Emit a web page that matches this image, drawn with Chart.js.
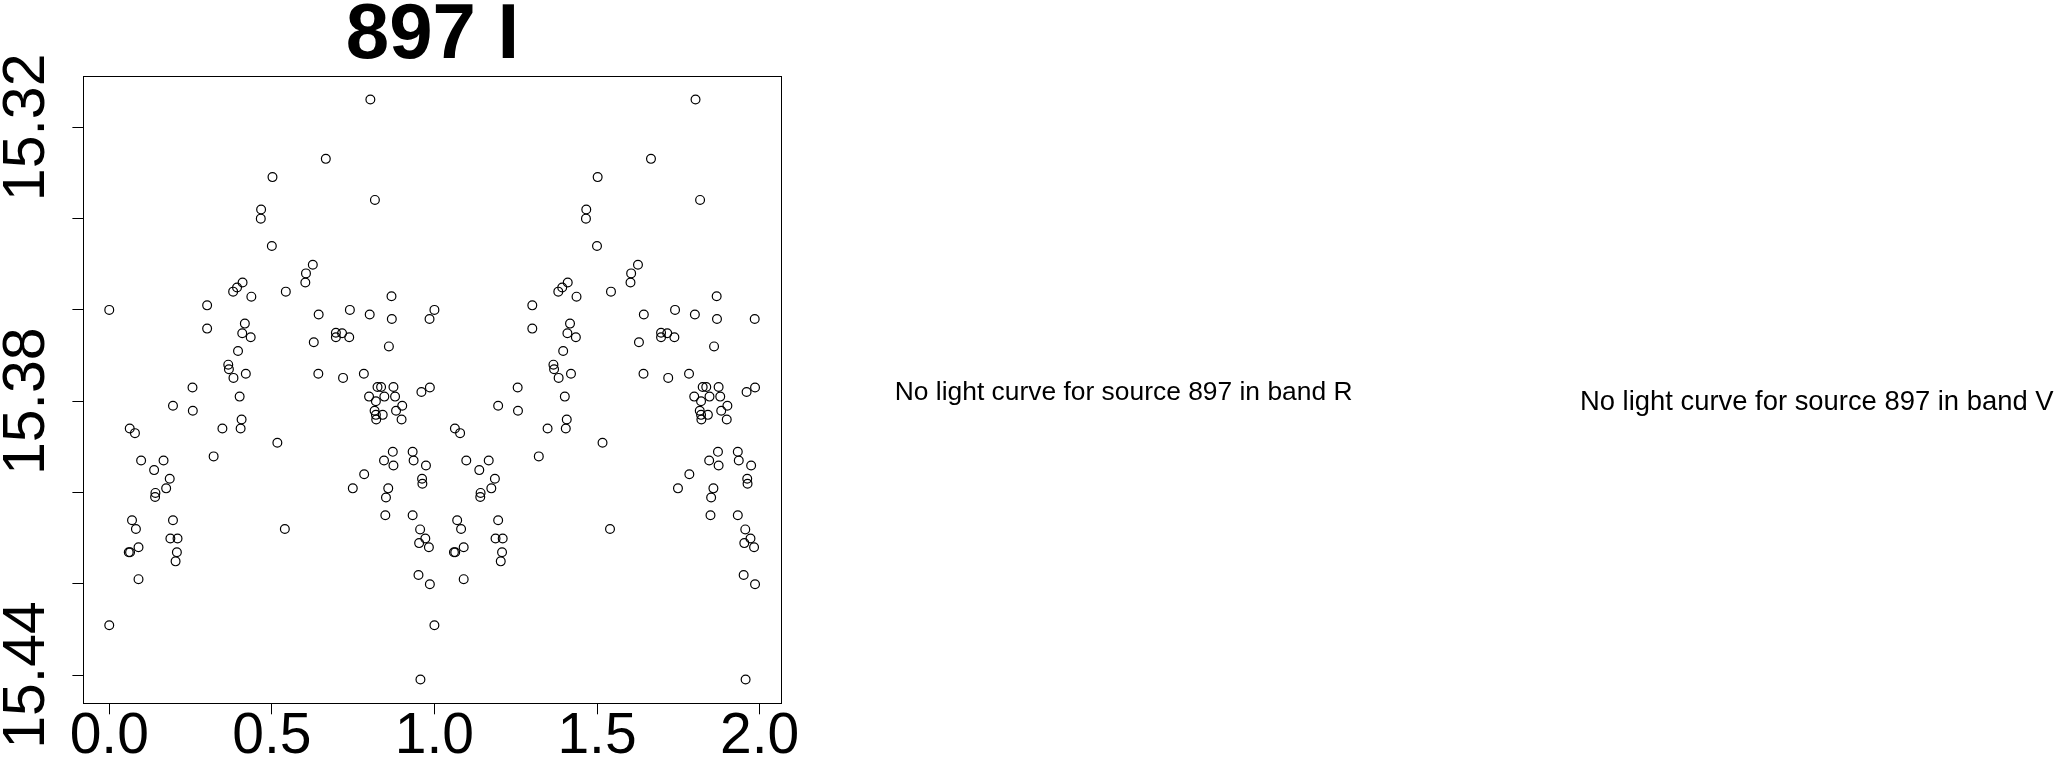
<!DOCTYPE html>
<html>
<head>
<meta charset="utf-8">
<title>897 I</title>
<script src="https://cdn.jsdelivr.net/npm/chart.js@4/dist/chart.umd.min.js"></script>
<style>
  html, body { margin: 0; padding: 0; background: #fff; }
  #wrap { position: relative; width: 2057px; height: 761px; overflow: hidden; }
  #lc { position: absolute; left: 0; top: 0; }
  .nolc { position: absolute; font-family: "Liberation Sans", Arial, sans-serif; color: #000; white-space: nowrap; }
</style>
</head>
<body>
<div id="wrap">
  <canvas id="lc" width="2057" height="761"></canvas>
  <div class="nolc" id="msgR" style="left:894.8px; top:377.6px; font-size:26.4px; line-height:26.4px;"></div>
  <div class="nolc" id="msgV" style="left:1580px; top:387px; font-size:27.4px; line-height:27.4px;"></div>
</div>
<script>
var source = "897";
var band = "I";
var missingBands = ["R", "V"];

// folded light curve, phase 0..1 then the same observations plotted again at 1..2
var phaseCycle1 = [
  0.000, 0.000, 0.063, 0.079, 0.098, 0.070, 0.082, 0.060, 0.064, 0.090,
  0.090, 0.138, 0.167, 0.142, 0.141, 0.175, 0.186, 0.196, 0.196, 0.188,
  0.210, 0.208, 0.204, 0.256, 0.257, 0.301, 0.301, 0.321, 0.348, 0.366,
  0.368, 0.382, 0.381, 0.393, 0.410, 0.437, 0.417, 0.409, 0.435, 0.396,
  0.420, 0.401, 0.407, 0.404, 0.467, 0.466, 0.502, 0.500, 0.543, 0.517,
  0.540, 0.605, 0.603, 0.626, 0.644, 0.629, 0.643, 0.666, 0.697, 0.697,
  0.716, 0.738, 0.740, 0.719, 0.749, 0.784, 0.783, 0.801, 0.803, 0.817,
  0.799, 0.825, 0.836, 0.820, 0.816, 0.820, 0.821, 0.846, 0.841, 0.845,
  0.858, 0.851, 0.849, 0.860, 0.868, 0.869, 0.874, 0.879, 0.882, 0.901,
  0.899, 0.872, 0.874, 0.933, 0.936, 0.933, 0.960, 0.956, 0.953, 0.972,
  0.983, 0.951, 0.957, 0.986, 0.974, 0.962, 0.963, 0.985, 0.986
];
var phaseCycle2 = [
  1.000, 1.000, 1.063, 1.079, 1.098, 1.070, 1.082, 1.060, 1.064, 1.090,
  1.090, 1.138, 1.167, 1.142, 1.141, 1.175, 1.186, 1.196, 1.196, 1.188,
  1.210, 1.208, 1.204, 1.256, 1.257, 1.301, 1.301, 1.321, 1.348, 1.366,
  1.368, 1.382, 1.381, 1.393, 1.410, 1.437, 1.417, 1.409, 1.435, 1.396,
  1.420, 1.401, 1.407, 1.404, 1.467, 1.466, 1.502, 1.500, 1.543, 1.517,
  1.540, 1.605, 1.603, 1.626, 1.644, 1.629, 1.643, 1.666, 1.697, 1.697,
  1.716, 1.738, 1.740, 1.719, 1.749, 1.784, 1.783, 1.801, 1.803, 1.817,
  1.799, 1.825, 1.836, 1.820, 1.816, 1.820, 1.821, 1.846, 1.841, 1.845,
  1.858, 1.851, 1.849, 1.860, 1.868, 1.869, 1.874, 1.879, 1.882, 1.901,
  1.899, 1.872, 1.874, 1.933, 1.936, 1.933, 1.960, 1.956, 1.953, 1.972,
  1.983, 1.951, 1.957, 1.986, 1.974, 1.962, 1.963, 1.985, 1.986
];
var magnitude = [
  15.3600, 15.4291, 15.3860, 15.3870, 15.3930, 15.4061, 15.4080, 15.4131, 15.4131, 15.4120,
  15.4190, 15.3951, 15.3930, 15.4001, 15.4010, 15.3991, 15.3970, 15.3810, 15.4061, 15.4101,
  15.4101, 15.4131, 15.4151, 15.3770, 15.3821, 15.3590, 15.3641, 15.3921, 15.3860, 15.3720,
  15.3730, 15.3749, 15.3560, 15.3551, 15.3540, 15.3571, 15.3630, 15.3651, 15.3660, 15.3690,
  15.3740, 15.3790, 15.3840, 15.3860, 15.3380, 15.3400, 15.3309, 15.3460, 15.3560, 15.3891,
  15.4080, 15.3520, 15.3540, 15.3501, 15.3610, 15.3671, 15.3740, 15.3269, 15.3650, 15.3660,
  15.3651, 15.3660, 15.3600, 15.3749, 15.3991, 15.3960, 15.3740, 15.3610, 15.3139, 15.3359,
  15.3790, 15.3769, 15.3769, 15.3800, 15.3821, 15.3830, 15.3840, 15.3790, 15.3830, 15.3930,
  15.3991, 15.4011, 15.4050, 15.3680, 15.3570, 15.3620, 15.3769, 15.3790, 15.3821, 15.3810,
  15.3840, 15.3911, 15.3941, 15.3911, 15.3930, 15.4050, 15.3780, 15.4081, 15.4111, 15.4101,
  15.4120, 15.4181, 15.4410, 15.4201, 15.3941, 15.3970, 15.3981, 15.3620, 15.3770
];

var xTickValues = [0, 0.5, 1, 1.5, 2];
var xTickLabels = ["0.0", "0.5", "1.0", "1.5", "2.0"];
var yTickValues = [15.32, 15.34, 15.36, 15.38, 15.40, 15.42, 15.44];
var yTickLabels = ["15.32", "", "", "15.38", "", "", "15.44"];

var FONT = "'Liberation Sans', Arial, Helvetica, sans-serif";

document.getElementById("msgR").textContent = "No light curve for source " + source + " in band " + missingBands[0];
document.getElementById("msgV").textContent = "No light curve for source " + source + " in band " + missingBands[1];

var points = phaseCycle1.map(function (p, i) { return { x: p, y: magnitude[i] }; })
  .concat(phaseCycle2.map(function (p, i) { return { x: p, y: magnitude[i] }; }));

// R style frame + vertical y labels
var rFrame = {
  id: "rFrame",
  afterDraw: function (chart) {
    var ctx = chart.ctx;
    var a = chart.chartArea;
    var ys = chart.scales.y;
    ctx.save();
    ctx.strokeStyle = "#000";
    ctx.lineWidth = 1;
    ctx.strokeRect(Math.round(a.left) + 0.5, Math.round(a.top) + 0.5,
      Math.round(a.right - a.left), Math.round(a.bottom - a.top));
    ctx.fillStyle = "#000";
    ctx.font = "59px " + FONT;
    ctx.textAlign = "center";
    ctx.textBaseline = "alphabetic";
    for (var i = 0; i < yTickValues.length; i++) {
      if (!yTickLabels[i]) continue;
      ctx.save();
      ctx.translate(43.5, ys.getPixelForValue(yTickValues[i]));
      ctx.rotate(-Math.PI / 2);
      ctx.fillText(yTickLabels[i], 0, 0);
      ctx.restore();
    }
    ctx.restore();
  }
};

var make_chart = function make_chart(id) {
  var ctx = document.getElementById(id);
  return new Chart(ctx, {
    type: "scatter",
    data: {
      datasets: [{
        label: source + " " + band,
        data: points,
        pointStyle: "circle",
        pointRadius: 4.4,
        pointHoverRadius: 4.4,
        borderWidth: 1.2,
        borderColor: "#000",
        backgroundColor: "rgba(0,0,0,0)"
      }]
    },
    options: {
      responsive: false,
      animation: false,
      devicePixelRatio: 1,
      layout: { padding: { left: 0, top: 0, right: 1275.4, bottom: 0 } },
      plugins: {
        legend: { display: false },
        tooltip: { enabled: false },
        title: {
          display: true,
          text: source + " " + band,
          fullSize: false,
          color: "#000",
          font: { family: FONT, size: 78, weight: "bold", lineHeight: 0.78 },
          padding: { top: 6.5, bottom: 8.9 }
        }
      },
      scales: {
        x: {
          type: "linear",
          min: -0.0795,
          max: 2.0677,
          afterBuildTicks: function (scale) {
            scale.ticks = xTickValues.map(function (v) { return { value: v }; });
          },
          afterFit: function (scale) { scale.height = 57.7; },
          grid: { drawOnChartArea: false, drawTicks: true, tickLength: 11, color: "#000", lineWidth: 1 },
          border: { display: false },
          ticks: {
            autoSkip: false,
            maxRotation: 0,
            minRotation: 0,
            padding: 0,
            color: "#000",
            font: { family: FONT, size: 57, lineHeight: 0.8 },
            callback: function (value, index) { return xTickLabels[index]; }
          }
        },
        y: {
          type: "linear",
          reverse: true,
          min: 15.3088,
          max: 15.4462,
          afterBuildTicks: function (scale) {
            scale.ticks = yTickValues.map(function (v) { return { value: v }; });
          },
          afterFit: function (scale) { scale.width = 83.4; },
          grid: { drawOnChartArea: false, drawTicks: true, tickLength: 11, color: "#000", lineWidth: 1 },
          border: { display: false },
          ticks: { display: false, autoSkip: false }
        }
      }
    },
    plugins: [rFrame]
  });
};

window.make_chart = make_chart;
make_chart("lc");
</script>
</body>
</html>
